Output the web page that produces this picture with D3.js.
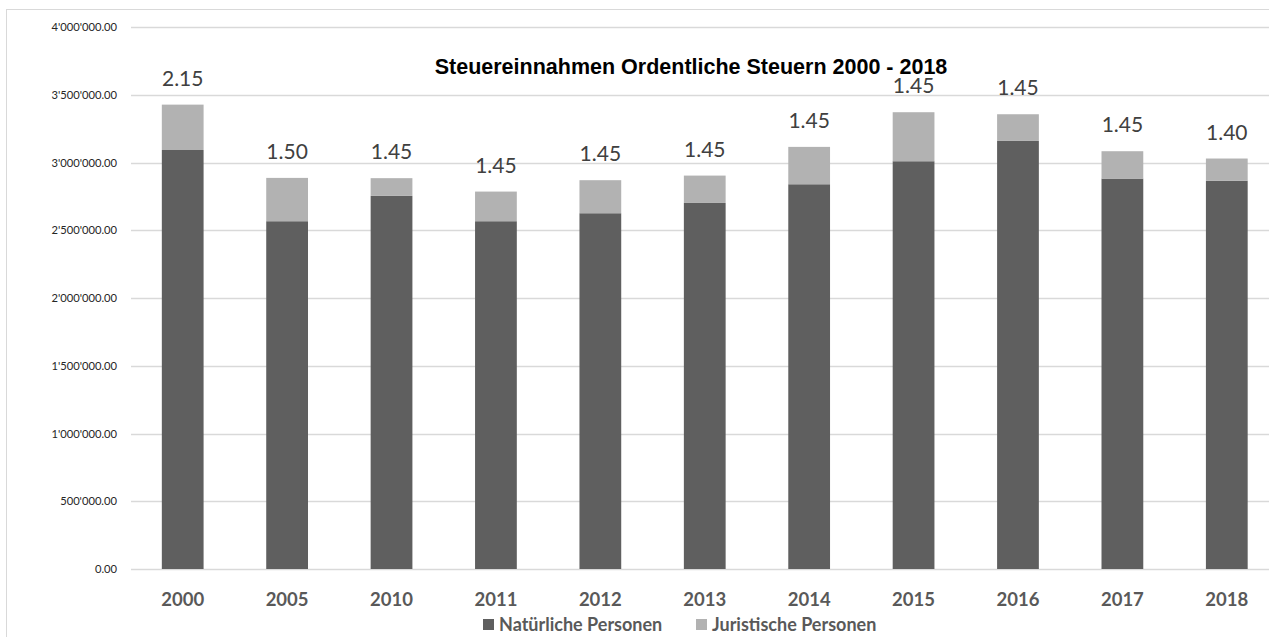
<!DOCTYPE html>
<html>
<head>
<meta charset="utf-8">
<script src="https://cdn.jsdelivr.net/npm/d3@7"></script>
<style>
  html, body { margin: 0; padding: 0; background: #fff; }
  svg { display: block; }
</style>
</head>
<body>
<div id="container"></div>
<script>
'use strict'
// data
const years      = ["2000", "2005", "2010", "2011", "2012", "2013", "2014", "2015", "2016", "2017", "2018"];
const natuerlich = [3094000, 2568000, 2755000, 2568000, 2627000, 2703000, 2841000, 3011000, 3161000, 2883000, 2866000];
const juristisch = [335000, 320000, 131000, 219000, 244000, 202000, 276000, 362000, 197000, 202000, 165000];
const steuerfuss = ["2.15", "1.50", "1.45", "1.45", "1.45", "1.45", "1.45", "1.45", "1.45", "1.45", "1.40"];
const yTicks     = [0, 500000, 1000000, 1500000, 2000000, 2500000, 3000000, 3500000, 4000000];
const seriesNames = ["Natürliche Personen", "Juristische Personen"];
const colors      = ["#5f5f5f", "#b2b2b2"];

const w = 1274;
const h = 637;
const svg = d3.select("#container").append("svg")
              .attr("width", w).attr("height", h);

// chart frame (top + left only visible)
svg.append("line").attr("x1", 6).attr("x2", 1269).attr("y1", 9.5).attr("y2", 9.5)
   .attr("stroke", "#d9d9d9").attr("stroke-width", 1);
svg.append("line").attr("x1", 6.5).attr("x2", 6.5).attr("y1", 9).attr("y2", h)
   .attr("stroke", "#d9d9d9").attr("stroke-width", 1);

// scales
const xScale = d3.scaleBand().domain(years).range([130.5, 1279])
                 .paddingInner(0.6).paddingOuter(0.3);
const yScale = d3.scaleLinear().domain([0, 4000000]).range([569, 27.3]);

// gridlines + y labels
const fmt = v => d3.format(",.2f")(v).replace(/,/g, "'");
svg.append("g").selectAll("line").data(yTicks).enter().append("line")
   .attr("x1", 131).attr("x2", 1269)
   .attr("y1", d => Math.round(yScale(d)) + 0.5).attr("y2", d => Math.round(yScale(d)) + 0.5)
   .attr("stroke", "#d9d9d9").attr("stroke-width", 1.3);
svg.append("g").selectAll("text").data(yTicks).enter().append("text")
   .attr("x", 117).attr("y", d => yScale(d) + 4)
   .attr("text-anchor", "end")
   .style("font-family", "Lato, 'Open Sans', sans-serif").style("font-size", "11.2px")
   .attr("fill", "#262626")
   .text(fmt);

// stacked bars
const rows = years.map((y, i) => ({year: y, a: natuerlich[i], b: juristisch[i], label: steuerfuss[i]}));
const stack = d3.stack().keys(["a", "b"])(rows);
svg.append("g").selectAll("g").data(stack).enter().append("g")
   .attr("fill", (d, i) => colors[i])
   .selectAll("rect").data(d => d).enter().append("rect")
   .attr("x", d => xScale(d.data.year))
   .attr("width", xScale.bandwidth())
   .attr("y", d => yScale(d[1]))
   .attr("height", d => yScale(d[0]) - yScale(d[1]));

// rate labels above bars
svg.append("g").selectAll("text").data(rows).enter().append("text")
   .attr("x", d => xScale(d.year) + xScale.bandwidth() / 2)
   .attr("y", d => yScale(d.a + d.b) - 19)
   .attr("text-anchor", "middle")
   .style("font-family", "Lato, 'Open Sans', sans-serif").style("font-size", "21px")
   .attr("fill", "#404040")
   .text(d => d.label);

// x axis labels
svg.append("g").selectAll("text").data(years).enter().append("text")
   .attr("x", d => xScale(d) + xScale.bandwidth() / 2)
   .attr("y", 606)
   .attr("text-anchor", "middle")
   .style("font-family", "Lato, 'Open Sans', sans-serif").style("font-size", "18.5px").style("font-weight", "700")
   .attr("fill", "#595959")
   .text(d => d);

// title (white box behind it, sits on top of the labels like in the original)
svg.append("rect").attr("x", 424).attr("y", 55).attr("width", 534).attr("height", 23).attr("fill", "#fff");
svg.append("text").text("Steuereinnahmen Ordentliche Steuern 2000 - 2018")
   .attr("x", 691).attr("y", 74).attr("text-anchor", "middle")
   .style("font-family", "'Liberation Sans', Arial, sans-serif").style("font-size", "21.5px").style("font-weight", "700")
   .attr("fill", "#000");

// legend
const legendX = [483, 696];
seriesNames.forEach(function(name, i) {
    svg.append("rect").attr("x", legendX[i]).attr("y", 619).attr("width", 11).attr("height", 11)
       .attr("fill", colors[i]);
    svg.append("text").text(name).attr("x", legendX[i] + 16).attr("y", 631)
       .style("font-family", "Lato, 'Open Sans', sans-serif").style("font-size", "18px").style("font-weight", "700")
       .attr("fill", "#595959");
});
</script>
</body>
</html>
